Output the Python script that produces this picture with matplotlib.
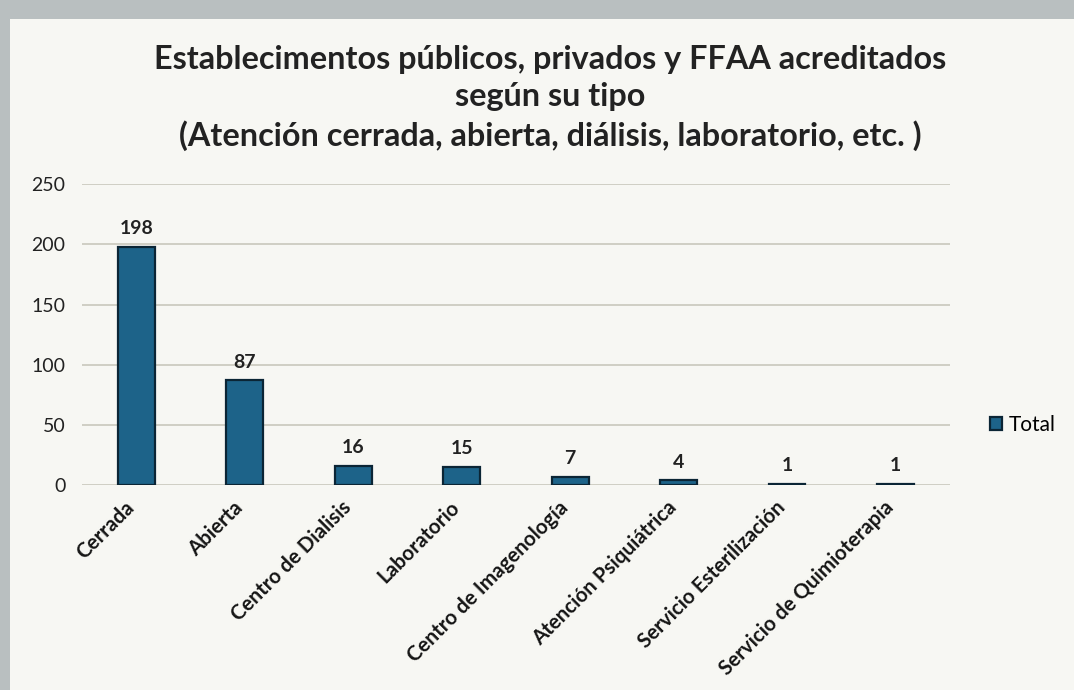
import matplotlib
matplotlib.use('Agg')
import matplotlib.pyplot as plt
from matplotlib.patches import Rectangle
from matplotlib.transforms import ScaledTranslation

categorias = ['Cerrada', 'Abierta', 'Centro de Dialisis', 'Laboratorio',
              'Centro de Imagenología', 'Atención Psiquiátrica',
              'Servicio Esterilización', 'Servicio de Quimioterapia']
totales = [198, 87, 16, 15, 7, 4, 1, 1]
yticks = [0, 50, 100, 150, 200, 250]

titulo = ('Establecimentos públicos, privados y FFAA acreditados\n'
          'según su tipo\n'
          '(Atención cerrada, abierta, diálisis, laboratorio, etc. )')

plt.rcParams['font.family'] = ['Lato', 'DejaVu Sans']

fig = plt.figure(figsize=(10.74, 6.9), dpi=100)
fig.patch.set_facecolor('#b9bfc0')
# panel claro del grafico
fig.patches.append(Rectangle((0.009, 0), 0.991, 0.972, transform=fig.transFigure,
                             facecolor='#f7f7f3', edgecolor='none', zorder=-5))

ax = fig.add_axes([0.0763, 0.297, 0.808, 0.436])
ax.set_facecolor('none')

x = range(len(categorias))
barras = ax.bar(x, totales, width=0.34, color='#1d6389', edgecolor='#0b2535',
                linewidth=1.6, zorder=3, label='Total')

for xi, v in zip(x, totales):
    ax.text(xi, v + 8, str(v), ha='center', va='bottom', fontsize=14,
            fontweight='bold', color='#222222')

ax.set_xlim(-0.5, len(categorias) - 0.5)
ax.set_ylim(0, 250)
ax.set_yticks(yticks)
ax.tick_params(axis='y', length=0, labelsize=14, pad=12, colors='#222222')
ax.tick_params(axis='x', length=0, pad=14)
ax.set_xticks(list(x))
ax.set_xticklabels(categorias, rotation=45, ha='right', va='center',
                   rotation_mode='anchor', fontsize=14.8, fontweight='bold',
                   color='#151515')
# correr un poco las etiquetas hacia la izquierda
desplaza = ScaledTranslation(-0.05, 0, fig.dpi_scale_trans)
for lbl in ax.get_xticklabels():
    lbl.set_transform(lbl.get_transform() + desplaza)
ax.grid(axis='y', color='#c9c8bc', linewidth=1.2, zorder=0)
for s in ax.spines.values():
    s.set_visible(False)

fig.text(0.512, 0.935, titulo, ha='center', va='top', fontsize=23.3,
         fontweight='bold', color='#222222', linespacing=1.36)

leg = ax.legend(loc='center left', bbox_to_anchor=(1.025, 0.2), frameon=False,
                fontsize=15, handlelength=0.55, handleheight=0.55,
                handletextpad=0.35)

fig.savefig('out.png', dpi=100, facecolor=fig.get_facecolor())
